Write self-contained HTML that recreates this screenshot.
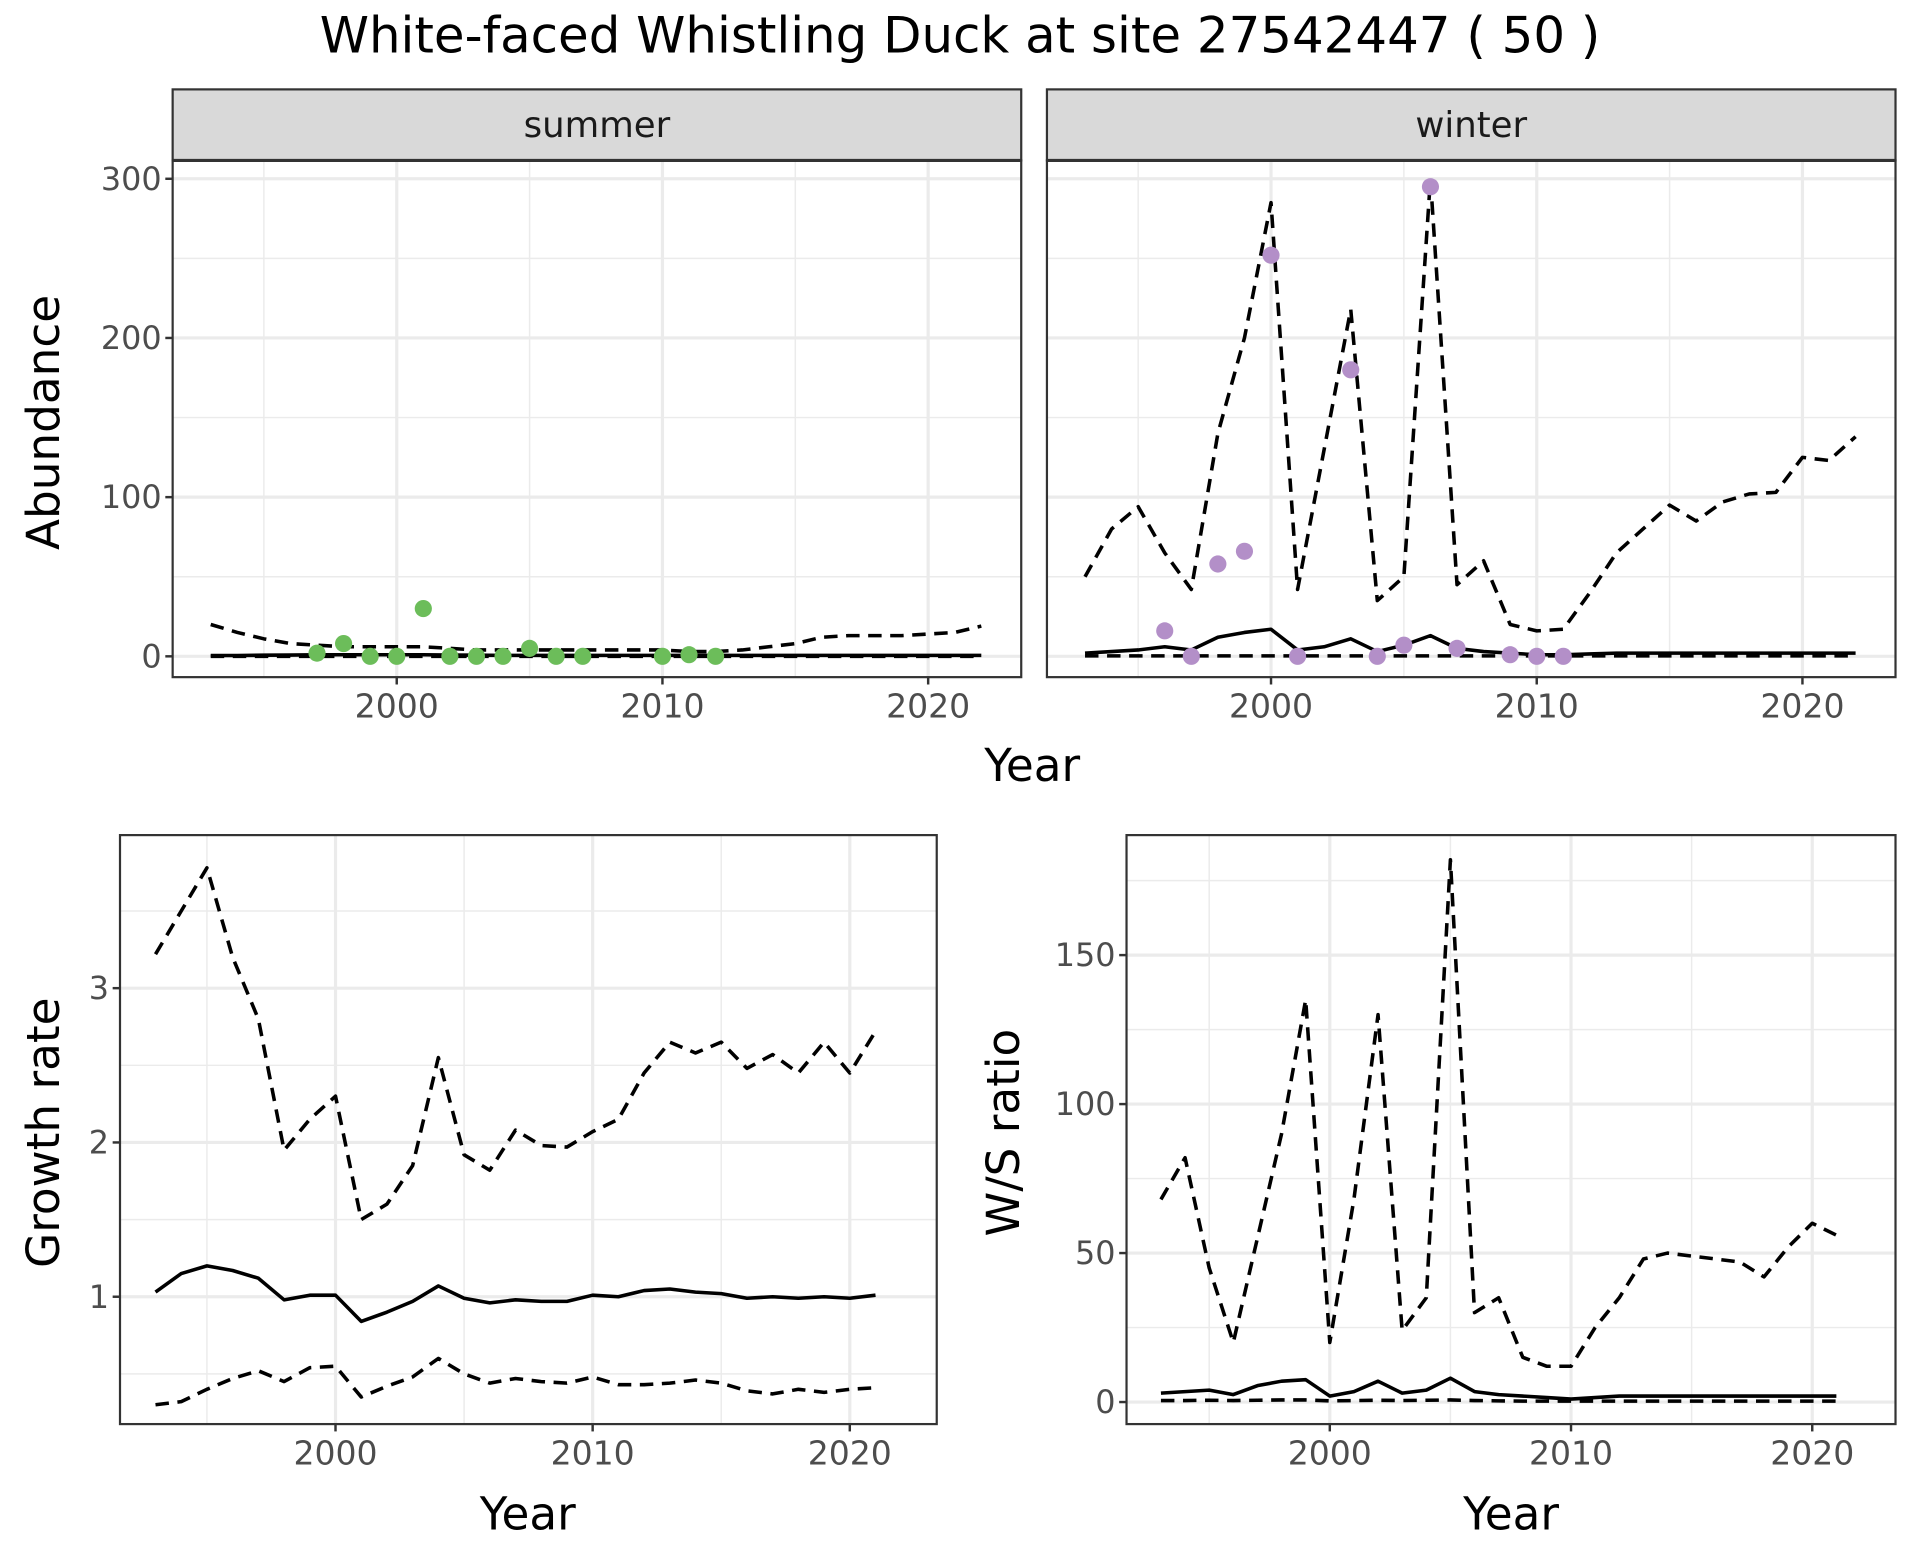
<!DOCTYPE html>
<html><head><meta charset="utf-8"><style>
html,body{margin:0;padding:0;background:#fff;}
svg{display:block;font-family:"DejaVu Sans","Liberation Sans",sans-serif;}
</style></head><body>
<svg id="chart" width="1920" height="1560" viewBox="0 0 1568 1274" xmlns="http://www.w3.org/2000/svg">
<rect width="1568" height="1274" fill="#fff"/>
<text x="784" y="43" font-size="40.7" text-anchor="middle" fill="#000">White-faced Whistling Duck at site 27542447 ( 50 )</text>
</svg>
<script>
// ---- data ----
const yearsAbund = [1993,1994,1995,1996,1997,1998,1999,2000,2001,2002,2003,2004,2005,2006,2007,2008,2009,2010,2011,2012,2013,2014,2015,2016,2017,2018,2019,2020,2021,2022];
const summerUpper = [20,15,11,8,7,6,6,6,6,5,4,4,4,4,4,4,4,4,3,3,4,6,8,12,13,13,13,14,15,19];
const summerMean = [0.5,0.5,0.7,0.8,1,1,1,1,1,0.8,0.7,0.6,0.6,0.6,0.6,0.6,0.6,0.6,0.6,0.6,0.6,0.6,0.6,0.6,0.6,0.6,0.6,0.6,0.6,0.6];
const summerLower = [0,0,0,0,0,0,0,0,0,0,0,0,0,0,0,0,0,0,0,0,0,0,0,0,0,0,0,0,0,0];
const summerObsYears = [1997,1998,1999,2000,2001,2002,2003,2004,2005,2006,2007,2010,2011,2012];
const summerObs = [2,8,0,0,30,0,0,0,5,0,0,0,1,0];
const winterUpper = [50,80,94,65,42,140,200,285,42,130,218,35,50,300,45,60,20,16,17,40,65,80,95,85,97,102,103,125,123,138];
const winterMean = [2,3,4,6,4,12,15,17,4,6,11,3,7,13,5,3,2,1,1,1.5,2,2,2,2,2,2,2,2,2,2];
const winterLower = [0.3,0.3,0.3,0.3,0.3,0.3,0.3,0.3,0.3,0.3,0.3,0.3,0.3,0.3,0.3,0.3,0.3,0.3,0.3,0.3,0.3,0.3,0.3,0.3,0.3,0.3,0.3,0.3,0.3,0.3];
const winterObsYears = [1996,1997,1998,1999,2000,2001,2003,2004,2005,2006,2007,2009,2010,2011];
const winterObs = [16,0,58,66,252,0,180,0,7,295,5,1,0,0];
const yearsRate = [1993,1994,1995,1996,1997,1998,1999,2000,2001,2002,2003,2004,2005,2006,2007,2008,2009,2010,2011,2012,2013,2014,2015,2016,2017,2018,2019,2020,2021];
const growthUpper = [3.22,3.5,3.78,3.2,2.8,1.95,2.15,2.3,1.5,1.6,1.85,2.55,1.92,1.82,2.08,1.98,1.97,2.07,2.15,2.45,2.65,2.58,2.65,2.48,2.57,2.45,2.65,2.45,2.72];
const growthMean = [1.03,1.15,1.2,1.17,1.12,0.98,1.01,1.01,0.84,0.9,0.97,1.07,0.99,0.96,0.98,0.97,0.97,1.01,1.0,1.04,1.05,1.03,1.02,0.99,1.0,0.99,1.0,0.99,1.01];
const growthLower = [0.3,0.32,0.4,0.47,0.52,0.45,0.54,0.55,0.35,0.42,0.48,0.6,0.5,0.44,0.47,0.45,0.44,0.48,0.43,0.43,0.44,0.46,0.44,0.39,0.37,0.4,0.38,0.4,0.41];
const wsUpper = [68,82,45,20,55,90,135,20,68,130,24,35,182,30,35,15,12,12,25,35,48,50,49,48,47,42,52,60,56];
const wsMean = [3,3.5,4,2.5,5.5,7,7.5,2,3.5,7,3,4,8,3.5,2.5,2,1.5,1,1.5,2,2,2,2,2,2,2,2,2,2];
const wsLower = [0.5,0.5,0.6,0.5,0.6,0.7,0.7,0.4,0.5,0.6,0.5,0.6,0.7,0.5,0.4,0.3,0.3,0.3,0.3,0.3,0.3,0.3,0.3,0.3,0.3,0.3,0.3,0.3,0.3];
const xTicks = [2000,2010,2020];
const xMinor = [1995,2005,2015];
const abundTicks = [0,100,200,300];
const abundMinor = [50,150,250];
const growthTicks = [1,2,3];
const growthMinor = [0.5,1.5,2.5,3.5];
const wsTicks = [0,50,100,150];
const wsMinor = [25,75,125,175];

const NS = "http://www.w3.org/2000/svg";
const svg = document.getElementById('chart');
function mk(tag, attrs, parent){const e=document.createElementNS(NS,tag);for(const k in attrs)e.setAttribute(k,attrs[k]);(parent||svg).appendChild(e);return e;}
function lin(d0,d1,r0,r1){return v=>r0+(v-d0)*(r1-r0)/(d1-d0);}

function panel(cfg){
  const g = mk('g',{});
  
  
  const {x0,x1,y0,y1,sx,sy}=cfg;
  const bg = mk('rect',{x:x0,y:y0,width:x1-x0,height:y1-y0,fill:'#fff'},g);
  
  
  cfg.yMinor.forEach(v=>{const l=mk('line',{x1:x0,x2:x1,y1:sy(v),y2:sy(v),stroke:'#ebebeb','stroke-width':1.2},g);
    
    });
  xMinor.forEach(v=>{const l=mk('line',{x1:sx(v),x2:sx(v),y1:y0,y2:y1,stroke:'#ebebeb','stroke-width':1.2},g);
    
    });
  cfg.yTicks.forEach(v=>{const l=mk('line',{x1:x0,x2:x1,y1:sy(v),y2:sy(v),stroke:'#ebebeb','stroke-width':2.6},g);
    
    });
  xTicks.forEach(v=>{const l=mk('line',{x1:sx(v),x2:sx(v),y1:y0,y2:y1,stroke:'#ebebeb','stroke-width':2.6},g);
    
    });
  cfg.lines.forEach(s=>{
    const pts=s.y.map((v,i)=>sx(s.x[i])+','+sy(v)).join(' ');
    const a={points:pts,fill:'none',stroke:'#000','stroke-width':2.9,'stroke-linejoin':'round'};
    if(s.dash)a['stroke-dasharray']='11,7';
    const p=mk('polyline',a,g);
    
    
  });
  if(cfg.pts){cfg.pts.y.forEach((v,i)=>{
    const c=mk('circle',{cx:sx(cfg.pts.x[i]),cy:sy(v),r:7,fill:cfg.pts.color},g);
    
    
  });}
  const fr=mk('rect',{x:x0,y:y0,width:x1-x0,height:y1-y0,fill:'none',stroke:'#333','stroke-width':1.8},g);
  
  
  if(cfg.showY){cfg.yTicks.forEach(v=>{
    const t=mk('line',{x1:x0-6,x2:x0,y1:sy(v),y2:sy(v),stroke:'#333','stroke-width':2},g);
    
    
    const tx=mk('text',{x:x0-9,y:sy(v)+9,'font-size':26,'text-anchor':'end',fill:'#4d4d4d'},g);
    tx.textContent=v;
    
    
  });}
  xTicks.forEach(v=>{
    const t=mk('line',{x1:sx(v),x2:sx(v),y1:y1,y2:y1+6,stroke:'#333','stroke-width':2},g);
    
    
    const tx=mk('text',{x:sx(v),y:y1+33,'font-size':27,'text-anchor':'middle',fill:'#4d4d4d'},g);
    tx.textContent=v;
    
    
  });
  if(cfg.strip){
    const sr=mk('rect',{x:x0,y:73,width:x1-x0,height:y0-73,fill:'#d9d9d9',stroke:'#333','stroke-width':1.8},g);
    
    
    const sl=mk('line',{x1:x0,x2:x1,y1:y0,y2:y0,stroke:'#333','stroke-width':2.6},g);
    
    
    const st=mk('text',{x:(x0+x1)/2,y:112,'font-size':29,'text-anchor':'middle',fill:'#1a1a1a'},g);
    st.textContent=cfg.strip;
    
    
  }
}

const ayS = lin(0,300,536,146);
panel({name:'summer-panel',x0:141,x1:834,y0:131,y1:553,sx:lin(2000,2010,324,541),sy:ayS,yTicks:abundTicks,yMinor:abundMinor,showY:true,strip:'summer',
  lines:[{x:yearsAbund,y:summerUpper,dash:true,name:'summer-upper-ci'},{x:yearsAbund,y:summerLower,dash:true,name:'summer-lower-ci'},{x:yearsAbund,y:summerMean,dash:false,name:'summer-mean'}],
  pts:{x:summerObsYears,y:summerObs,color:'#6cbd5a'}});
panel({name:'winter-panel',x0:855,x1:1548,y0:131,y1:553,sx:lin(2000,2010,1038,1255),sy:ayS,yTicks:abundTicks,yMinor:abundMinor,showY:false,strip:'winter',
  lines:[{x:yearsAbund,y:winterUpper,dash:true,name:'winter-upper-ci'},{x:yearsAbund,y:winterLower,dash:true,name:'winter-lower-ci'},{x:yearsAbund,y:winterMean,dash:false,name:'winter-mean'}],
  pts:{x:winterObsYears,y:winterObs,color:'#b38fc8'}});
panel({name:'growth-rate-panel',x0:98,x1:765,y0:682,y1:1163,sx:lin(2000,2010,274,484),sy:lin(1,3,1059,807),yTicks:growthTicks,yMinor:growthMinor,showY:true,
  lines:[{x:yearsRate,y:growthUpper,dash:true,name:'growth-upper-ci'},{x:yearsRate,y:growthLower,dash:true,name:'growth-lower-ci'},{x:yearsRate,y:growthMean,dash:false,name:'growth-mean'}]});
panel({name:'ws-ratio-panel',x0:920,x1:1548,y0:682,y1:1163,sx:lin(2000,2010,1086,1283),sy:lin(0,150,1145,780),yTicks:wsTicks,yMinor:wsMinor,showY:true,
  lines:[{x:yearsRate,y:wsUpper,dash:true,name:'ws-upper-ci'},{x:yearsRate,y:wsLower,dash:true,name:'ws-lower-ci'},{x:yearsRate,y:wsMean,dash:false,name:'ws-mean'}]});

function label(txt,x,y,rot,name){
  const a={x:x,y:y,'font-size':37,'text-anchor':'middle',fill:'#000'};
  if(rot)a.transform='rotate(-90 '+x+' '+y+')';
  const t=mk('text',a);t.textContent=txt;
  
  
}
label('Year',843,638,false,'x-axis-title-abundance');
label('Abundance',48,345,true,'y-axis-title-abundance');
label('Year',431,1249,false,'x-axis-title-growth');
label('Growth rate',48,925,true,'y-axis-title-growth');
label('Year',1234,1249,false,'x-axis-title-ws');
label('W/S ratio',832,925,true,'y-axis-title-ws');
</script>
</body></html>
